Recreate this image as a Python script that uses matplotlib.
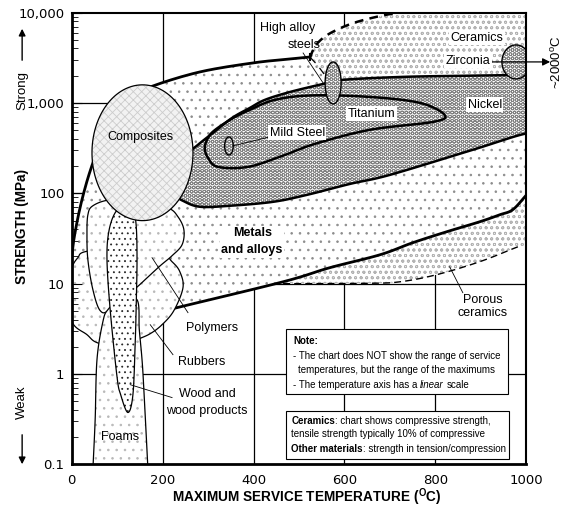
import numpy as np
import matplotlib
matplotlib.use("Agg")
import matplotlib.pyplot as plt
from matplotlib.patches import Polygon, Rectangle, FancyArrowPatch
from matplotlib.ticker import FixedLocator, FixedFormatter, LogLocator, NullFormatter, NullLocator

plt.rcParams['font.family'] = ['Liberation Sans Narrow', 'Liberation Sans', 'DejaVu Sans']
plt.rcParams['hatch.linewidth'] = 0.6

# ---------------- axis data ----------------
temp_ticks = [0, 200, 400, 600, 800, 1000]
temp_tick_labels = ['0', '200', '400', '600', '800', '1000']
strength_ticks = [0.1, 1, 10, 100, 1000, 10000]
strength_tick_labels = ['0.1', '1', '10', '100', '1,000', '10,000']
grid_temps = [200, 400, 600, 800]
grid_strengths = [1, 10, 100, 1000]

# ------- material envelopes: max service temperature (C) vs strength (MPa) -------
ceramic_upper_T = [524, 531, 541, 562, 597, 634, 689, 744]
ceramic_upper_S = [3140, 3850, 4600, 5640, 6920, 8050, 9380, 10400]
ceramic_step_T = [524, 540, 556]
ceramic_step_S = [3140, 2560, 2000]
porous_T = [465, 649, 722, 803, 897, 981]
porous_S = [10.0, 10.1, 10.5, 12.6, 17.5, 25.6]

metals_upper_T = [0, 7, 23, 47, 85, 129, 179, 282, 399, 480, 524]
metals_upper_S = [19, 35, 85, 217, 650, 1160, 1540, 2200, 2770, 3060, 3220]
metals_lower_T = [223, 465, 567, 678, 750, 825, 897, 941, 970, 1000]
metals_lower_S = [5.3, 10.5, 15.0, 20.9, 28.4, 37.6, 48.4, 57.8, 66, 96]

nickel_T = [221, 234, 254, 278, 311, 353, 392, 425, 480, 553, 597, 729, 875, 1000, 1040,
            1040, 1000, 882, 700, 612, 517, 443, 348, 282, 245, 227]
nickel_S = [115, 160, 266, 344, 466, 682, 880, 1080, 1320, 1620, 1800, 1940, 2000, 2040, 2060,
            440, 460, 303, 160, 127, 96, 80.5, 72.8, 71.0, 82.6, 96]

titanium_T = [293, 300, 315, 353, 388, 447, 529, 656, 766, 820, 795, 656, 535, 463, 388, 322, 300]
titanium_S = [318, 410, 500, 670, 820, 1080, 1210, 1164, 1000, 736, 617, 504, 352, 259, 196, 196, 247]

rubbers_T = [30, 14, 1, -8, 1, 34, 56, 107, 144, 173, 199, 225, 245, 238, 221, 195, 107]
rubbers_S = [22.6, 19.4, 15.0, 8.59, 3.80, 2.73, 2.23, 1.96, 2.40, 2.80, 3.52, 5.04, 9.04, 13.6, 17.5, 22.0, 25.6]

polymers_T = [36, 47, 85, 151, 212, 234, 247, 243, 221, 195, 166, 142, 85, 63, 47, 36, 34]
polymers_S = [57.8, 72.8, 84.7, 84.7, 69.2, 55.0, 39.5, 27.0, 20.4, 15.8, 11.6, 9.0, 5.16, 5.04, 8.59, 18.4, 34.8]

foams_T = [47, 52, 56, 69, 80, 107, 144, 149, 155, 159, 168, 170, 45]
foams_S = [0.088, 0.314, 1.445, 3.80, 5.16, 6.65, 6.65, 3.10, 1.445, 0.675, 0.088, 0.05, 0.05]

wood_T = [96, 82, 78, 85, 100, 108, 124, 135, 140, 142, 144, 142, 135, 118]
wood_S = [61.0, 37.6, 18.4, 5.16, 0.938, 0.593, 0.376, 0.593, 2.23, 5.16, 18.4, 44.9, 62.5, 74.6]

# ellipses: centre temperature, centre strength, half-width (C), half-height (decades)
composites_ell = (156, 281, 111, 0.751)
mild_steel_ell = (346, 334, 9.4, 0.10)
high_alloy_ell = (575, 1663, 17.6, 0.232)
zirconia_ell = (977, 2840, 31, 0.188)

# leader lines
polymers_leader = ([177, 256], [19.4, 4.78])
rubbers_leader = ([173, 223], [3.52, 1.64])
wood_leader = ([129, 221], [0.764, 0.550])
mild_leader = ([355, 436], [335, 421])
has_leader = ([509, 553], [3565, 1663])
porous_leader = ([831, 860], [15.4, 7.96])
zirconia_arrow = ([920, 1052], [2840, 2840])

labels = [
    # text, T, S, weight, linespacing, boxed
    ("Composites", 151, 421, 'normal', 1.2, False),
    ("Metals\nand alloys", 397, 29.1, 'bold', 1.55, True),
    ("Polymers", 310, 3.27, 'normal', 1.2, False),
    ("Rubbers", 287, 1.37, 'normal', 1.2, False),
    ("Wood and\nwood products", 298, 0.484, 'normal', 1.55, False),
    ("Foams", 107, 0.199, 'normal', 1.2, False),
    ("Porous\nceramics", 903, 5.57, 'normal', 1.05, False),
    ("Mild Steel", 496, 466, 'normal', 1.2, True),
    ("Titanium", 659, 755, 'normal', 1.2, True),
    ("Nickel", 908, 951, 'normal', 1.2, True),
    ("Zirconia", 871, 2911, 'normal', 1.2, True),
    ("Ceramics", 891, 5224, 'normal', 1.2, True),
    ("High alloy", 476, 6745, 'normal', 1.2, False),
    ("steels", 511, 4375, 'normal', 1.2, False),
]

# ---------------- helpers ----------------
KX, KY = 0.455, 90.5  # px per C and per decade (for smoothing in display-like space)


def smooth(T, S, closed=False, n=14):
    P = np.column_stack([np.asarray(T, float) * KX, np.log10(np.asarray(S, float)) * KY])
    if closed:
        P = np.vstack([P[-1], P, P[0], P[1]])
    else:
        P = np.vstack([2 * P[0] - P[1], P, 2 * P[-1] - P[-2]])
    out = []
    t = np.linspace(0, 1, n, endpoint=False)[:, None]
    for i in range(1, len(P) - 2):
        p0, p1, p2, p3 = P[i - 1], P[i], P[i + 1], P[i + 2]
        seg = 0.5 * (2 * p1 + (-p0 + p2) * t + (2 * p0 - 5 * p1 + 4 * p2 - p3) * t ** 2
                     + (-p0 + 3 * p1 - 3 * p2 + p3) * t ** 3)
        out.append(seg)
    if not closed:
        out.append(P[-2][None, :])
    A = np.vstack(out)
    return A[:, 0] / KX, 10 ** (A[:, 1] / KY)


def ellipse(params, n=90):
    Tc, Sc, dT, dlog = params
    t = np.linspace(0, 2 * np.pi, n)
    return Tc + dT * np.cos(t), Sc * 10 ** (dlog * np.sin(t))


def region(ax, T, S, z, hatch=None, hcolor='0.5', face='white', lw=0.9, outline=True):
    xy = np.column_stack([T, S])
    ax.add_patch(Polygon(xy, closed=True, facecolor=face, edgecolor='none', lw=0, zorder=z))
    if hatch:
        ax.add_patch(Polygon(xy, closed=True, facecolor='none', edgecolor=hcolor, lw=0,
                             hatch=hatch, zorder=z + 0.01))
    if outline:
        ax.add_patch(Polygon(xy, closed=True, fill=False, edgecolor='black', lw=lw, zorder=z + 0.02))


# ---------------- figure ----------------
fig = plt.figure(figsize=(5.75, 5.09), dpi=100)
ax = fig.add_axes([0.12435, 0.08743, 0.7913, 0.88801])
ax.set_yscale('log')
ax.set_xlim(0, 1000)
ax.set_ylim(0.1, 10000)

for gt in grid_temps:
    ax.axvline(gt, color='black', lw=0.9, zorder=0.5)
for gs in grid_strengths:
    ax.axhline(gs, color='black', lw=0.9, zorder=0.5)

HEX = 'OOOO'
HEXC = '0.5'

# ceramics (lowest)
uT, uS = smooth(ceramic_upper_T, ceramic_upper_S)
pT, pS = smooth(porous_T, porous_S)
cer_T = np.concatenate([uT, [1030, 1030], pT[::-1], [480]])
cer_S = np.concatenate([uS, [10400, 27], pS[::-1], [316]])
region(ax, cer_T, cer_S, 1, hatch='ooo', hcolor='0.7', outline=False)
ax.plot(uT, uS, color='black', lw=1.8, ls=(0, (3.5, 2.5)), zorder=1.05)
ax.plot(pT, pS, color='black', lw=1.0, ls=(0, (5, 3)), zorder=1.05)
sT, sS = smooth(ceramic_step_T, ceramic_step_S)
ax.plot(sT, sS, color='black', lw=1.8, ls=(0, (3, 2.5)), zorder=1.05)

# metals and alloys envelope
muT, muS = smooth(metals_upper_T, metals_upper_S)
mlT, mlS = smooth(metals_lower_T, metals_lower_S)
met_T = np.concatenate([muT, sT, [570, 1030, 1030], mlT[::-1], [63, -10]])
met_S = np.concatenate([muS, sS, [1500, 1500, 96], mlS[::-1], [4.55, 5.2]])
region(ax, met_T, met_S, 2, hatch='..', hcolor='0.55', outline=False)
ax.plot(muT, muS, color='black', lw=2.0, zorder=2.05, solid_capstyle='butt')
ax.plot(mlT, mlS, color='black', lw=2.0, zorder=2.05, solid_capstyle='butt')
ax.plot([metals_upper_T[-1]] * 2, [metals_upper_S[-1] * 0.93, metals_upper_S[-1] * 1.07],
        color='black', lw=1.5, zorder=2.06)

# nickel / steels band
nT, nS = smooth(nickel_T, nickel_S, closed=True)
region(ax, nT, nS, 3, hatch=HEX, hcolor=HEXC, lw=1.8)
# titanium
tT, tS = smooth(titanium_T, titanium_S, closed=True)
ax.add_patch(Polygon(np.column_stack([tT, tS]), closed=True, fill=False, edgecolor='black', lw=1.8, zorder=4))
# mild steel
eT, eS = ellipse(mild_steel_ell)
ax.add_patch(Polygon(np.column_stack([eT, eS]), closed=True, fill=False, edgecolor='black', lw=1.0, zorder=4))
# high alloy steels and zirconia
for ell in (high_alloy_ell, zirconia_ell):
    eT, eS = ellipse(ell)
    region(ax, eT, eS, 5, hatch=HEX, hcolor=HEXC, lw=1.0)

# polymers family
rT, rS = smooth(rubbers_T, rubbers_S, closed=True)
region(ax, rT, rS, 6, hatch='..', hcolor='0.72', lw=0.9)
plT, plS = smooth(polymers_T, polymers_S, closed=True)
region(ax, plT, plS, 7, hatch='..', hcolor='0.72', lw=0.9)
fT, fS = smooth(foams_T, foams_S, closed=True)
region(ax, fT, fS, 8, hatch='..', hcolor='0.72', lw=0.9)
wT, wS = smooth(wood_T, wood_S, closed=True)
region(ax, wT, wS, 9, hatch='...', hcolor='0.15', lw=0.9)

# composites
cT, cS = ellipse(composites_ell, n=120)
region(ax, cT, cS, 10, hatch='xxxx', hcolor='0.8', face='0.95', lw=0.9)

# leader lines
for lx, ly in (polymers_leader, rubbers_leader, wood_leader, mild_leader, has_leader, porous_leader):
    ax.plot(lx, ly, color='black', lw=0.6, zorder=20)
ax.annotate('', xy=(zirconia_arrow[0][1], zirconia_arrow[1][1]),
            xytext=(zirconia_arrow[0][0], zirconia_arrow[1][0]),
            arrowprops=dict(arrowstyle='-|>', color='black', lw=0.9, mutation_scale=11,
                            shrinkA=0, shrinkB=0),
            annotation_clip=False, zorder=20)
ax.text(1067, 2840, r'~2000$\mathregular{^o}$C', rotation=90, ha='center', va='center',
        fontsize=9.5, clip_on=False, zorder=20)

LFS = 9.0
for txt, lt, ls, wt, lsp, boxed in labels:
    kw = {}
    if boxed:
        kw['bbox'] = dict(boxstyle='square,pad=0.12', facecolor='white', edgecolor='none')
    ax.text(lt, ls, txt, ha='center', va='center', fontsize=LFS, fontweight=wt,
            linespacing=lsp, zorder=21, **kw)

# note boxes
ax.add_patch(Rectangle((0.4725, 0.156), 0.4865, 0.144, transform=ax.transAxes,
                       facecolor='white', edgecolor='black', lw=0.8, zorder=30))
ax.add_patch(Rectangle((0.4725, 0.0122), 0.489, 0.106, transform=ax.transAxes,
                       facecolor='white', edgecolor='black', lw=0.8, zorder=30))
NF = ['Liberation Sans', 'DejaVu Sans']
nfs = 7.0
ax.text(0.487, 0.273, 'Note:', transform=ax.transAxes, fontsize=nfs, family=NF,
        fontweight='bold', va='center', ha='left', zorder=31)
ax.text(0.487, 0.240, '- The chart does NOT show the range of service', transform=ax.transAxes,
        fontsize=nfs, family=NF, va='center', ha='left', zorder=31)
ax.text(0.497, 0.209, 'temperatures, but the range of the maximums', transform=ax.transAxes,
        fontsize=nfs, family=NF, va='center', ha='left', zorder=31)
t1 = ax.text(0.487, 0.176, '- The temperature axis has a', transform=ax.transAxes,
             fontsize=nfs, family=NF, va='center', ha='left', zorder=31)
t2 = ax.annotate('linear', xy=(1, 0), xycoords=t1, xytext=(2.0, 0), textcoords='offset points',
                 fontsize=nfs, family=NF, style='italic', va='bottom', ha='left', zorder=31)
ax.annotate('scale', xy=(1, 0), xycoords=t2, xytext=(2.0, 0), textcoords='offset points',
            fontsize=nfs, family=NF, va='bottom', ha='left', zorder=31)

b1 = ax.text(0.483, 0.0962, 'Ceramics', transform=ax.transAxes, fontsize=nfs, family=NF,
             fontweight='bold', va='center', ha='left', zorder=31)
ax.annotate(': chart shows compressive strength,', xy=(1, 0), xycoords=b1, fontsize=nfs, family=NF,
            va='bottom', ha='left', zorder=31)
ax.text(0.483, 0.0675, 'tensile strength typically 10% of compressive', transform=ax.transAxes,
        fontsize=nfs, family=NF, va='center', ha='left', zorder=31)
b2 = ax.text(0.483, 0.0343, 'Other materials', transform=ax.transAxes, fontsize=nfs, family=NF,
             fontweight='bold', va='center', ha='left', zorder=31)
ax.annotate(': strength in tension/compression', xy=(1, 0), xycoords=b2, fontsize=nfs, family=NF,
            va='bottom', ha='left', zorder=31)

# axes cosmetics
ax.xaxis.set_major_locator(FixedLocator(temp_ticks))
ax.xaxis.set_major_formatter(FixedFormatter(temp_tick_labels))
ax.xaxis.set_minor_locator(NullLocator())
ax.yaxis.set_major_locator(FixedLocator(strength_ticks))
ax.yaxis.set_major_formatter(FixedFormatter(strength_tick_labels))
ax.yaxis.set_minor_locator(LogLocator(base=10, subs=np.arange(2, 10)))
ax.yaxis.set_minor_formatter(NullFormatter())
ax.tick_params(axis='x', length=0, pad=6.5)
ax.tick_params(axis='y', which='major', direction='in', length=7, width=0.8, pad=5)
ax.tick_params(axis='y', which='minor', direction='in', length=4, width=0.6)
for lab in ax.get_xticklabels() + ax.get_yticklabels():
    lab.set_family('DejaVu Sans')
    lab.set_fontsize(9.5)
ax.xaxis.set_zorder(50)
ax.yaxis.set_zorder(50)
for side, w in (('left', 2.0), ('bottom', 2.0), ('top', 1.5), ('right', 1.5)):
    ax.spines[side].set_linewidth(w)
    ax.spines[side].set_zorder(60)

fig.text(0.534, 0.0226, r'MAXIMUM SERVICE TEMPERATURE ($\mathregular{^O}$C)', ha='center',
         va='center', fontsize=9.8, fontweight='bold')
fig.text(0.0385, 1 - 226 / 509, 'STRENGTH (MPa)', rotation=90, ha='center', va='center',
         fontsize=9.8, fontweight='bold')
fig.text(0.0385, 1 - 91 / 509, 'Strong', rotation=90, ha='center', va='center', fontsize=9.5)
fig.text(0.0385, 1 - 402 / 509, 'Weak', rotation=90, ha='center', va='center', fontsize=9.5)
fig.add_artist(FancyArrowPatch((0.0385, 1 - 63 / 509), (0.0385, 1 - 26 / 509),
               transform=fig.transFigure, arrowstyle='-|>', mutation_scale=10, lw=1.0, color='black'))
fig.add_artist(FancyArrowPatch((0.0385, 1 - 432 / 509), (0.0385, 1 - 467 / 509),
               transform=fig.transFigure, arrowstyle='-|>', mutation_scale=10, lw=1.0, color='black'))

fig.savefig('out.png', dpi=100)
